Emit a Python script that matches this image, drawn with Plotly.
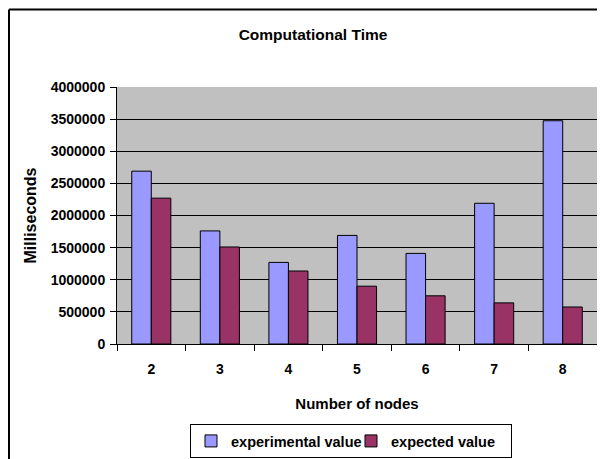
import plotly.graph_objects as go

categories = ["2", "3", "4", "5", "6", "7", "8"]
experimental = [2690000, 1760000, 1270000, 1690000, 1410000, 2190000, 3475000]
expected = [2270000, 1510000, 1136000, 900000, 750000, 640000, 576000]
y_ticks = [0, 500000, 1000000, 1500000, 2000000, 2500000, 3000000, 3500000, 4000000]

FONT = "Liberation Sans, Arial, sans-serif"

fig = go.Figure()
fig.add_trace(go.Bar(
    x=categories, y=experimental, name="experimental value",
    marker=dict(color="#9999FF", line=dict(color="#000000", width=1)),
))
fig.add_trace(go.Bar(
    x=categories, y=expected, name="expected value",
    marker=dict(color="#993366", line=dict(color="#000000", width=1)),
))

# page body has an 8px margin, so the figure sits at (8, 8) in the window
W, H = 589, 451
L, T, R = 109, 79, 0
ph = 257
B = H - T - ph
pw = W - L - R
OFF = 8  # body offset

def f(size):
    return dict(family=FONT, size=size, color="black", weight="bold")

fig.update_layout(
    width=W, height=H,
    margin=dict(l=L, r=R, t=T, b=B, pad=0, autoexpand=False),
    paper_bgcolor="white",
    plot_bgcolor="#C0C0C0",
    barmode="group",
    bargap=0.43,
    bargroupgap=0,
    font=f(14),
    title=dict(
        text="Computational Time",
        font=f(15.5),
        x=305 / W, xanchor="center",
        y=1 - 27 / H, yanchor="middle",
    ),
    xaxis=dict(
        type="category",
        range=[-0.5, 6.5],
        tickson="boundaries",
        ticks="outside", ticklen=6, tickcolor="black",
        ticklabelstandoff=12,
        showline=True, linecolor="black", linewidth=1,
        showgrid=False,
        tickfont=f(14),
        title=dict(text="Number of nodes", standoff=22, font=f(15)),
        automargin=False,
    ),
    yaxis=dict(
        range=[0, 4000000],
        tickvals=y_ticks,
        ticktext=[str(v) for v in y_ticks],
        ticks="outside", ticklen=6, tickcolor="black",
        ticklabelstandoff=2,
        showline=True, linecolor="black", linewidth=1,
        showgrid=True, gridcolor="#000000", gridwidth=1,
        zeroline=False,
        tickfont=f(14),
        title=dict(text="Milliseconds", standoff=10, font=f(16)),
        automargin=False,
    ),
    legend=dict(
        orientation="h",
        x=(190 - OFF - L) / pw, xanchor="left",
        y=(ph - (424 - OFF - T)) / ph, yanchor="top",
        bordercolor="black", borderwidth=1,
        bgcolor="white",
        font=f(14.5),
        itemwidth=30,
        entrywidth=115, entrywidthmode="pixels",
        traceorder="normal",
    ),
    showlegend=True,
)

# outer chart frame: only its left and top edges are visible in the reference
fx = (1 - L) / pw
fy = (T + ph - 1.5) / ph
fig.add_shape(type="line", xref="paper", yref="paper",
              x0=fx, x1=fx, y0=(T + ph - H) / ph, y1=fy,
              line=dict(color="black", width=2), layer="below")
fig.add_shape(type="line", xref="paper", yref="paper",
              x0=fx, x1=(W - L) / pw, y0=fy, y1=fy,
              line=dict(color="black", width=2), layer="below")

fig.write_html("out.html")
